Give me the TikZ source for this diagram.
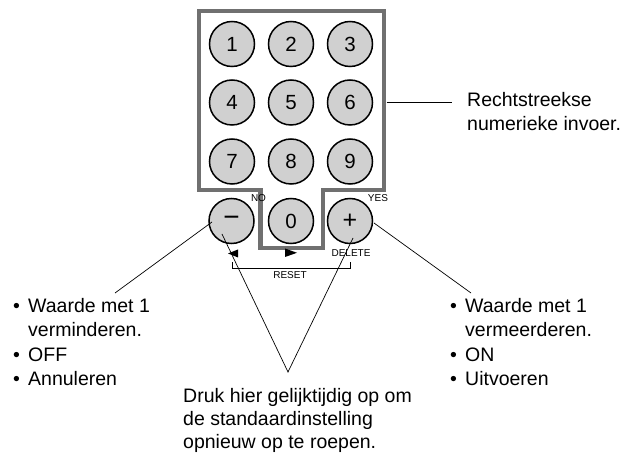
\documentclass[tikz,border=0pt]{standalone}
\usepackage{fontspec}
\setmainfont{Liberation Sans}
\definecolor{keygray}{HTML}{D0D0D0}
\definecolor{framegray}{HTML}{707070}
\begin{document}
\begin{tikzpicture}[x=1pt,y=-1pt,
  keybtn/.style={circle, draw=black, line width=1.5pt, fill=keygray, minimum size=45pt, inner sep=0pt, font=\fontsize{20.5}{24}\selectfont},
  txt/.style={anchor=base west, inner sep=0pt, font=\fontsize{19.5}{24}\selectfont},
  small/.style={inner sep=0pt, font=\fontsize{10}{12}\selectfont},
  conn/.style={draw=black, line width=0.7pt},
  tri/.style={fill=black, draw=none}
]
\useasboundingbox (0,0) rectangle (632,454);

% frame
\draw[line width=4.5pt, draw=framegray, line join=miter]
  (199,11) -- (384,11) -- (384,190) -- (323,190) -- (323,248) -- (260.5,248) -- (260.5,190) -- (199,190) -- cycle;

% keys
\node[keybtn] (k1) at (232,44) {1};
\node[keybtn] (k2) at (291,44) {2};
\node[keybtn] (k3) at (350,44) {3};
\node[keybtn] (k4) at (232,102.5) {4};
\node[keybtn] (k5) at (291,102.5) {5};
\node[keybtn] (k6) at (350,102.5) {6};
\node[keybtn] (k7) at (232,161.5) {7};
\node[keybtn] (k8) at (291,161.5) {8};
\node[keybtn] (k9) at (350,161.5) {9};
\node[keybtn] (kminus) at (231.5,221) {\fontsize{28}{30}\selectfont −};
\node[keybtn] (k0) at (291,221) {0};
\node[keybtn] (kplus) at (350,221) {\fontsize{25}{28}\selectfont +};

% small labels
\node[small] (no) at (258.5,198) {NO};
\node[small] (yes) at (378,198) {YES};
\node[small] (del) at (351,253) {DELETE};
\node[small] (reset) at (290,275.5) {RESET};

% triangles
\fill[tri] (228,253.5) -- (238,249.5) -- (238,257.5) -- cycle;
\fill[tri] (285,248.5) -- (297,252.8) -- (285,257) -- cycle;

% bracket
\draw[line width=1.3pt] (232.5,262.5) -- (232.5,268.5) -- (350.5,268.5) -- (350.5,262.5);

% right-top text
\draw[conn] (386.5,102) -- (452,102);
\node[txt] (r1) at (467,107) {Rechtstreekse};
\node[txt] (r2) at (467,130.5) {numerieke invoer.};

% left text
\node[txt] (lb1) at (13,313) {•};
\node[txt] (l1) at (28,313) {Waarde met 1};
\node[txt] (l2) at (28,337) {verminderen.};
\node[txt] (lb2) at (13,361) {•};
\node[txt] (l3) at (28,361) {OFF};
\node[txt] (lb3) at (13,385) {•};
\node[txt] (l4) at (28,385) {Annuleren};

% right text
\node[txt] (rb1) at (450,313) {•};
\node[txt] (m1) at (465,313) {Waarde met 1};
\node[txt] (m2) at (465,337) {vermeerderen.};
\node[txt] (rb2) at (450,361) {•};
\node[txt] (m3) at (465,361) {ON};
\node[txt] (rb3) at (450,385) {•};
\node[txt] (m4) at (465,385) {Uitvoeren};

% bottom text
\node[txt] (b1) at (183,402) {Druk hier gelijktijdig op om};
\node[txt] (b2) at (183,425) {de standaardinstelling};
\node[txt] (b3) at (183,448) {opnieuw op te roepen.};

% connectors
\coordinate (mstart) at (212,222);
\coordinate (mend) at (115,293);
\coordinate (pstart) at (374,223);
\coordinate (pend) at (471,293);
\coordinate (vl) at (222,234);
\coordinate (vr) at (353,238);
\coordinate (apex) at (288,372);
\draw[conn] (mstart) -- (mend);
\draw[conn] (pstart) -- (pend);
\draw[conn] (vl) -- (apex) -- (vr);
\end{tikzpicture}
\end{document}
